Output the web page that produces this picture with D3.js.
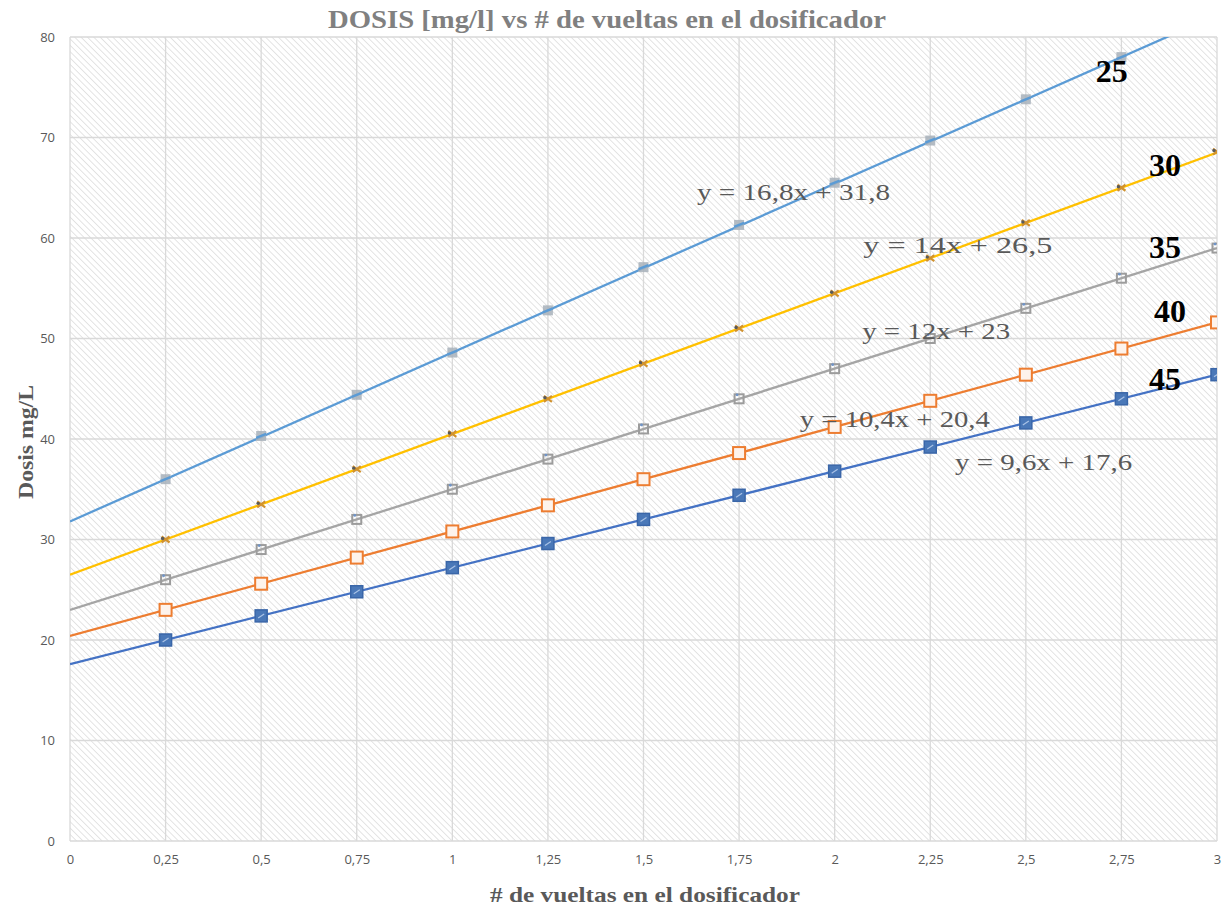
<!DOCTYPE html>
<html>
<head>
<meta charset="utf-8">
<script src="https://cdn.jsdelivr.net/npm/d3@7"></script>
<style>
  html, body { margin: 0; padding: 0; background: #fff; }
  svg { display: block; }
</style>
</head>
<body>
<svg id="chart" width="1231" height="909"></svg>
<script>
// Turns of the dosing device
const turns = [0.25, 0.5, 0.75, 1, 1.25, 1.5, 1.75, 2, 2.25, 2.5, 2.75, 3];

// Measured dose (mg/L) for each dosing setting
const dose25 = [36.0, 40.3, 44.4, 48.6, 52.8, 57.1, 61.3, 65.5, 69.7, 73.8, 78.0, 82.2];
const dose30 = [30.0, 33.5, 37.0, 40.5, 44.0, 47.5, 51.0, 54.5, 58.0, 61.5, 65.0, 68.6];
const dose35 = [26.0, 29.0, 32.0, 35.0, 38.0, 41.0, 44.0, 47.0, 50.0, 53.0, 56.0, 59.0];
const dose40 = [23.0, 25.6, 28.2, 30.8, 33.4, 36.0, 38.6, 41.2, 43.8, 46.4, 49.0, 51.6];
const dose45 = [20.0, 22.4, 24.8, 27.2, 29.6, 32.0, 34.4, 36.8, 39.2, 41.6, 44.0, 46.4];

const seriesNames = ["25", "30", "35", "40", "45"];
const slopes = [16.8, 14, 12, 10.4, 9.6];
const intercepts = [31.8, 26.5, 23, 20.4, 17.6];
const equations = ["y = 16,8x + 31,8", "y = 14x + 26,5", "y = 12x + 23", "y = 10,4x + 20,4", "y = 9,6x + 17,6"];

const xTicks = [0, 0.25, 0.5, 0.75, 1, 1.25, 1.5, 1.75, 2, 2.25, 2.5, 2.75, 3];
const yTicks = [0, 10, 20, 30, 40, 50, 60, 70, 80];

const colors = ["#5B9BD5", "#FFC000", "#A5A5A5", "#ED7D31", "#4472C4"];
const allDose = [dose25, dose30, dose35, dose40, dose45];

const svg = d3.select("#chart");
const m = { left: 70, right: 1217, top: 37, bottom: 841 };

const x = d3.scaleLinear().domain([0, 3]).range([m.left, m.right]);
const y = d3.scaleLinear().domain([0, 80]).range([m.bottom, m.top]);

const serif = "'Liberation Serif', 'Times New Roman', serif";
const sans = "'Open Sans', sans-serif";

// Hatched plot background (downward diagonal stripes)
const defs = svg.append("defs");
const pat = defs.append("pattern")
  .attr("id", "hatch")
  .attr("patternUnits", "userSpaceOnUse")
  .attr("width", 4.5).attr("height", 4.5)
  .attr("patternTransform", "rotate(45)");
pat.append("rect").attr("width", 4.5).attr("height", 4.5).attr("fill", "#ffffff");
pat.append("line").attr("x1", 0).attr("y1", 0).attr("x2", 4.5).attr("y2", 0)
  .attr("stroke", "#d6d6d6").attr("stroke-width", 1.3);

defs.append("clipPath").attr("id", "plotclip")
  .append("rect").attr("x", m.left).attr("y", m.top)
  .attr("width", m.right - m.left).attr("height", m.bottom - m.top);

svg.append("rect")
  .attr("x", m.left).attr("y", m.top)
  .attr("width", m.right - m.left).attr("height", m.bottom - m.top)
  .attr("fill", "url(#hatch)");

// Gridlines
const grid = svg.append("g");
grid.selectAll(".gx").data(xTicks).join("line")
  .attr("x1", d => x(d)).attr("x2", d => x(d))
  .attr("y1", m.top).attr("y2", m.bottom)
  .attr("stroke", "#d9d9d9").attr("stroke-width", 1.3);
grid.selectAll(".gy").data(yTicks).join("line")
  .attr("x1", m.left).attr("x2", m.right)
  .attr("y1", d => y(d)).attr("y2", d => y(d))
  .attr("stroke", "#d9d9d9").attr("stroke-width", 1.3);

// Axes (labels only)
const xAxis = d3.axisBottom(x).tickValues(xTicks).tickSize(0).tickPadding(14)
  .tickFormat(d => String(d).replace(".", ","));
const gx = svg.append("g").attr("transform", `translate(0,${m.bottom})`).call(xAxis);
gx.select(".domain").remove();
gx.selectAll("text").attr("font-family", sans).attr("font-size", 13).attr("fill", "#595959");

const yAxis = d3.axisLeft(y).tickValues(yTicks).tickSize(0).tickPadding(15);
const gy = svg.append("g").attr("transform", `translate(${m.left},0)`).call(yAxis);
gy.select(".domain").remove();
gy.selectAll("text").attr("font-family", sans).attr("font-size", 13).attr("fill", "#595959");

// Series: trendline + markers
const plot = svg.append("g").attr("clip-path", "url(#plotclip)");

allDose.forEach((vals, i) => {
  const pts = turns.map((t, j) => ({ t, v: vals[j] }));
  // linear trendline from x = 0 to 3
  plot.append("line")
    .attr("x1", x(0)).attr("y1", y(intercepts[i]))
    .attr("x2", x(3)).attr("y2", y(intercepts[i] + slopes[i] * 3))
    .attr("stroke", colors[i]).attr("stroke-width", 2.3);

  const g = plot.append("g");
  if (i === 0) {
    g.selectAll("rect").data(pts).join("rect")
      .attr("x", d => x(d.t) - 5).attr("y", d => y(d.v) - 5)
      .attr("width", 10).attr("height", 10)
      .attr("fill", "#a7b0ba").attr("opacity", 0.85);
    g.selectAll("line").data(pts).join("line")
      .attr("x1", d => x(d.t) - 5).attr("x2", d => x(d.t) + 5)
      .attr("y1", d => y(d.v) + 2).attr("y2", d => y(d.v) - 2)
      .attr("stroke", colors[0]).attr("stroke-width", 2.4);
  } else if (i === 1) {
    g.selectAll("path").data(pts).join("path")
      .attr("d", d => `M${x(d.t) - 4},${y(d.v) - 3}L${x(d.t) + 4},${y(d.v) + 3}M${x(d.t) - 4},${y(d.v) + 3}L${x(d.t) + 4},${y(d.v) - 3}`)
      .attr("stroke", "#d1922f").attr("stroke-width", 2.2);
    g.selectAll("circle").data(pts).join("circle")
      .attr("cx", d => x(d.t) - 3).attr("cy", d => y(d.v) - 1).attr("r", 1.7)
      .attr("fill", "#5a5a5a");
  } else if (i === 2) {
    g.selectAll("rect").data(pts).join("rect")
      .attr("x", d => x(d.t) - 4.5).attr("y", d => y(d.v) - 4.5)
      .attr("width", 9).attr("height", 9)
      .attr("fill", "none").attr("stroke", "#9c9c9c").attr("stroke-width", 2);
    g.selectAll("circle").data(pts).join("circle")
      .attr("cx", d => x(d.t) - 2).attr("cy", d => y(d.v) - 4).attr("r", 1.4)
      .attr("fill", "#6f94c8");
  } else if (i === 3) {
    g.selectAll("rect").data(pts).join("rect")
      .attr("x", d => x(d.t) - 6).attr("y", d => y(d.v) - 6)
      .attr("width", 12).attr("height", 12)
      .attr("fill", "#fdf3ec").attr("stroke", colors[3]).attr("stroke-width", 2);
  } else {
    g.selectAll("rect").data(pts).join("rect")
      .attr("x", d => x(d.t) - 6).attr("y", d => y(d.v) - 6)
      .attr("width", 12).attr("height", 12)
      .attr("fill", "#4a78b8").attr("stroke", "#3a66a8").attr("stroke-width", 1.5);
    g.selectAll("path").data(pts).join("path")
      .attr("d", d => `M${x(d.t) - 3},${y(d.v) + 2}L${x(d.t) + 3},${y(d.v) - 2}`)
      .attr("stroke", "#a9c2e6").attr("stroke-width", 1.2);
  }
});

// Trendline equations
const eqPos = [
  { t: 1.64, v: 63.8, w: 193 },
  { t: 2.075, v: 58.5, w: 189 },
  { t: 2.072, v: 50.0, w: 148 },
  { t: 1.909, v: 41.2, w: 190 },
  { t: 2.315, v: 36.9, w: 177 }
];
svg.append("g").selectAll("text").data(equations).join("text")
  .attr("x", (d, i) => x(eqPos[i].t))
  .attr("y", (d, i) => y(eqPos[i].v))
  .attr("font-family", serif)
  .attr("font-size", 23).attr("fill", "#595959")
  .attr("textLength", (d, i) => eqPos[i].w)
  .attr("lengthAdjust", "spacingAndGlyphs")
  .text(d => d);

// Series name labels
const namePos = [
  { t: 2.725, v: 75.5 },
  { t: 2.864, v: 66.2 },
  { t: 2.864, v: 58.0 },
  { t: 2.877, v: 51.6 },
  { t: 2.864, v: 44.9 }
];
svg.append("g").selectAll("text").data(seriesNames).join("text")
  .attr("x", (d, i) => x(namePos[i].t))
  .attr("y", (d, i) => y(namePos[i].v))
  .attr("text-anchor", "middle")
  .attr("font-family", serif)
  .attr("font-weight", "bold").attr("font-size", 32).attr("fill", "#000")
  .text(d => d);

// Titles
svg.append("text")
  .attr("x", 607).attr("y", 28)
  .attr("text-anchor", "middle")
  .attr("font-family", serif)
  .attr("font-weight", "bold").attr("font-size", 26).attr("fill", "#808080")
  .attr("textLength", 558).attr("lengthAdjust", "spacingAndGlyphs")
  .text("DOSIS [mg/l] vs # de vueltas en el dosificador");

svg.append("text")
  .attr("x", 645).attr("y", 902)
  .attr("text-anchor", "middle")
  .attr("font-family", serif)
  .attr("font-weight", "bold").attr("font-size", 22).attr("fill", "#595959")
  .attr("textLength", 310).attr("lengthAdjust", "spacingAndGlyphs")
  .text("# de vueltas en el dosificador");

svg.append("text")
  .attr("transform", "translate(33,442) rotate(-90)")
  .attr("text-anchor", "middle")
  .attr("font-family", serif)
  .attr("font-weight", "bold").attr("font-size", 22).attr("fill", "#595959")
  .attr("textLength", 114).attr("lengthAdjust", "spacingAndGlyphs")
  .text("Dosis mg/L");
</script>
</body>
</html>
